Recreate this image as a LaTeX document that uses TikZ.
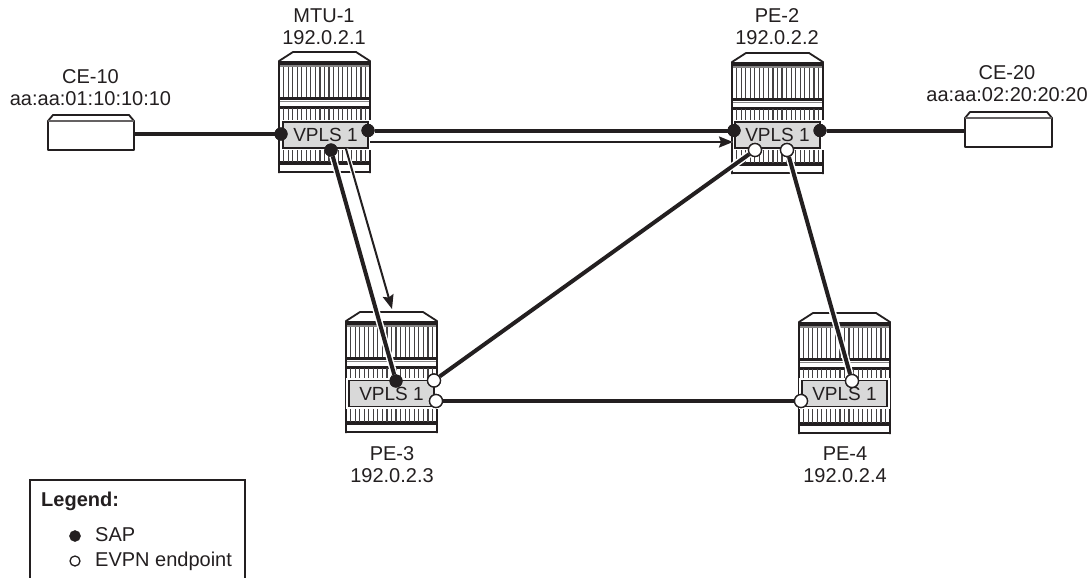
\documentclass[tikz,border=0pt]{standalone}
\usepackage{fontspec}
\setmainfont{Liberation Sans}
\usetikzlibrary{arrows.meta}
\definecolor{ink}{HTML}{231F20}
\definecolor{boxgrey}{HTML}{D9D9D9}
\tikzset{
  x=1pt,y=-1pt,
  lab/.style={font=\fontsize{20}{22}\selectfont,text=ink,align=center,inner sep=0pt},
  vpls/.style={draw=ink,line width=1.6pt,fill=boxgrey,minimum width=85pt,minimum height=26pt,inner sep=0pt,font=\fontsize{19}{22}\selectfont,text=ink},
  sap/.style={circle,fill=ink,draw=ink,line width=.5pt,minimum size=12.5pt,inner sep=0pt},
  evpn/.style={circle,fill=white,draw=ink,line width=1.3pt,minimum size=13pt,inner sep=0pt},
  link/.style={draw=ink,line width=4pt,preaction={draw=white,line width=7pt}},
  thin link/.style={draw=ink,line width=2pt,preaction={draw=white,line width=4.5pt},-{Stealth[length=14pt,width=11pt,inset=2pt]}},
  outl/.style={draw=ink,line width=1.8pt,fill=white,line join=round},
}
\newcommand{\routerbody}[2]{%
  \begin{scope}[shift={(#1,#2)}]
    \fill[white] (0,9)--(14,0)--(77,0)--(91,9)--(91,121)--(0,121)--cycle;
    \draw[ink,line width=1.8pt,line join=round] (0,121)--(0,9)--(14,0)--(77,0)--(91,9)--(91,121);
    \draw[ink,line width=3.2pt] (0,11)--(91,11);
    \draw[ink!55,line width=1.6pt] (1,14)--(90,14);
    \draw[ink,line width=3pt] (0,46)--(91,46);
    \draw[ink!55,line width=1.4pt] (1,49.5)--(90,49.5);
    \draw[ink,line width=3pt] (0,55)--(91,55);
    \draw[ink,line width=3.4pt] (0,111)--(91,111);
    \draw[ink,line width=2pt] (0,120)--(91,120);
    \foreach \i in {1,...,19}{
      \draw[ink!85,line width=1.2pt] ({\i*4.55},15)--({\i*4.55},45);
      \draw[ink!85,line width=1.2pt] ({\i*4.55},56)--({\i*4.55},70);
      \draw[ink!85,line width=1.2pt] ({\i*4.55},96)--({\i*4.55},110);
    }
  \end{scope}}
\newcommand{\cebox}[4]{%
  \draw[outl] (#1,#2+6)--(#1+5,#2)--(#3-5,#2)--(#3,#2+6)--(#3,#4)--(#1,#4)--cycle;
  \draw[ink!70,line width=1.2pt] (#1,#2+6)--(#3,#2+6);}
\begin{document}
\begin{tikzpicture}
\useasboundingbox (0,0) rectangle (1092,578);
\fill[white] (0,0) rectangle (1092,578);
% devices
\cebox{48}{115}{134}{150}
\cebox{965}{112}{1052}{147}
\routerbody{279}{52}
\routerbody{732}{53}
\routerbody{346}{312}
\routerbody{799}{313}
\fill[white] (280,120) rectangle (371,150);
\fill[white] (733,120) rectangle (824,150);
\fill[white] (345.5,378) rectangle (438,409);
\fill[white] (799,378) rectangle (890,409);
\node[vpls] (m) at (325.5,135) {VPLS 1};
\node[vpls] (p2) at (777.5,135) {VPLS 1};
\node[vpls] (p3) at (391.5,393.5) {VPLS 1};
\node[vpls] (p4) at (844.5,393.5) {VPLS 1};
\coordinate (ce10) at (135,134);
\coordinate (ce20) at (964,130.5);
% endpoints
\node[sap] (mL) at (281,134) {};
\node[sap] (mR) at (368,130.5) {};
\node[sap] (mB) at (331,150) {};
\node[sap] (p2L) at (734,130.5) {};
\node[sap] (p2R) at (820,130.5) {};
\node[evpn] (p2a) at (755,150) {};
\node[evpn] (p2b) at (787,150) {};
\node[sap] (p3s) at (396,381) {};
\node[evpn] (p3a) at (434,380.5) {};
\node[evpn] (p3b) at (436,401) {};
\node[evpn] (p4a) at (801,401) {};
\node[evpn] (p4b) at (852,381) {};
\coordinate (t1s) at (370,142);
\coordinate (t1e) at (733,142);
\coordinate (t2s) at (346,149);
\coordinate (t2e) at (392,309);
% links
\draw[thin link] (t1s)--(t1e);
\draw[thin link] (t2s)--(t2e);
\draw[link] (mR)--(p2L);
\draw[link] (mB)--(p3s);
\draw[link] (p2a)--(p3a);
\draw[link] (p2b)--(p4b);
\draw[link] (p3b)--(p4a);
\draw[draw=ink,line width=4pt] (ce10)--(mL);
\draw[draw=ink,line width=4pt] (p2R)--(ce20);
% redraw endpoints over links
\node[sap] at (mL) {};
\node[sap] at (mR) {};
\node[sap] at (mB) {};
\node[sap] at (p2L) {};
\node[sap] at (p2R) {};
\node[evpn] at (p2a) {};
\node[evpn] at (p2b) {};
\node[sap] at (p3s) {};
\node[evpn] at (p3a) {};
\node[evpn] at (p3b) {};
\node[evpn] at (p4a) {};
\node[evpn] at (p4b) {};
% labels
\node[lab] (l1) at (90.5,88) {CE-10\\aa:aa:01:10:10:10};
\node[lab] (l2) at (324,27) {MTU-1\\192.0.2.1};
\node[lab] (l3) at (777,27) {PE-2\\192.0.2.2};
\node[lab] (l4) at (1007,84) {CE-20\\aa:aa:02:20:20:20};
\node[lab] (l5) at (392,465) {PE-3\\192.0.2.3};
\node[lab] (l6) at (845,465) {PE-4\\192.0.2.4};
% legend
\draw[ink,line width=1.2pt] (30,578)--(30,480)--(245,480)--(245,578);
\node[lab,font=\fontsize{20}{22}\selectfont\bfseries,anchor=west] (lg) at (41,501) {Legend:};
\node[sap,minimum size=11pt] (ls) at (75,536) {};
\node[lab,anchor=west] (lst) at (95,535) {SAP};
\node[evpn,minimum size=10pt] (le) at (75,561) {};
\node[lab,anchor=west] (let) at (95,561) {EVPN endpoint};
\end{tikzpicture}
\end{document}
